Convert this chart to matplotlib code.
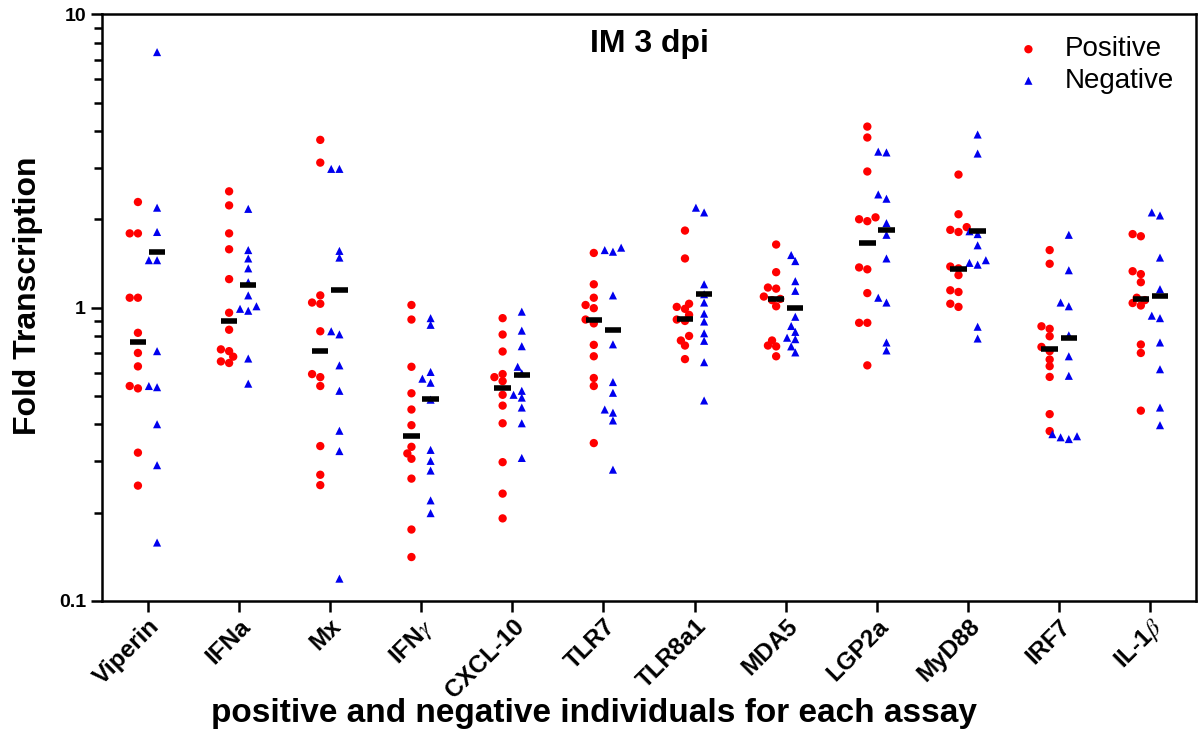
import numpy as np
import matplotlib
matplotlib.use('Agg')
import matplotlib.pyplot as plt

plt.rcParams['font.family'] = ['Liberation Sans', 'DejaVu Sans']
plt.rcParams['mathtext.fontset'] = 'stix'

# ---------------- data ----------------
genes = ['Viperin', 'IFNa', 'Mx', r'IFN$\gamma$', 'CXCL-10', 'TLR7',
         'TLR8a1', 'MDA5', 'LGP2a', 'MyD88', 'IRF7', r'IL-1$\beta$']

positive = [
    [2.29, 1.79, 1.79, 1.08, 1.08, 0.82, 0.70, 0.63, 0.54, 0.53, 0.32, 0.247],
    [2.49, 2.23, 1.79, 1.58, 1.25, 0.96, 0.84, 0.72, 0.71, 0.68, 0.655, 0.647],
    [3.73, 3.12, 1.10, 1.04, 1.03, 0.83, 0.593, 0.579, 0.54, 0.337, 0.269, 0.248],
    [1.02, 0.91, 0.628, 0.51, 0.449, 0.397, 0.335, 0.318, 0.305, 0.261, 0.175, 0.141],
    [0.92, 0.809, 0.708, 0.593, 0.579, 0.561, 0.504, 0.463, 0.403, 0.297, 0.232, 0.191],
    [1.535, 1.20, 1.08, 1.02, 0.995, 0.91, 0.883, 0.746, 0.682, 0.575, 0.54, 0.345],
    [1.83, 1.47, 1.03, 1.005, 0.99, 0.944, 0.91, 0.90, 0.80, 0.772, 0.742, 0.667],
    [1.64, 1.32, 1.17, 1.16, 1.09, 1.07, 1.06, 1.01, 0.772, 0.742, 0.737, 0.682],
    [4.14, 3.80, 2.91, 2.03, 2.0, 1.97, 1.37, 1.35, 1.12, 0.887, 0.887, 0.635],
    [2.84, 2.08, 1.88, 1.84, 1.81, 1.38, 1.36, 1.29, 1.145, 1.13, 1.03, 1.005],
    [1.57, 1.41, 0.863, 0.846, 0.798, 0.734, 0.71, 0.665, 0.631, 0.58, 0.433, 0.379],
    [1.78, 1.75, 1.33, 1.30, 1.22, 1.08, 1.06, 1.036, 1.016, 0.748, 0.70, 0.445],
]

negative = [
    [7.43, 2.19, 1.81, 1.45, 1.45, 0.71, 0.54, 0.535, 0.40, 0.29, 0.158],
    [2.17, 1.57, 1.47, 1.36, 1.22, 1.10, 1.01, 0.99, 0.975, 0.67, 0.55],
    [2.97, 2.97, 1.56, 1.48, 0.83, 0.81, 0.635, 0.52, 0.38, 0.324, 0.119],
    [0.92, 0.873, 0.603, 0.572, 0.554, 0.485, 0.327, 0.30, 0.278, 0.22, 0.199],
    [0.968, 0.834, 0.738, 0.628, 0.597, 0.52, 0.504, 0.493, 0.456, 0.403, 0.307],
    [1.60, 1.57, 1.55, 1.10, 0.749, 0.557, 0.512, 0.449, 0.438, 0.412, 0.28],
    [2.19, 2.11, 1.20, 1.11, 1.04, 0.953, 0.896, 0.817, 0.77, 0.651, 0.482],
    [1.51, 1.44, 1.23, 1.14, 0.93, 0.865, 0.826, 0.789, 0.78, 0.737, 0.703],
    [3.40, 3.38, 2.43, 2.35, 1.94, 1.77, 1.47, 1.08, 1.04, 0.76, 0.714],
    [3.89, 3.35, 1.82, 1.78, 1.63, 1.45, 1.42, 1.40, 0.86, 0.784],
    [1.77, 1.34, 1.04, 1.01, 0.804, 0.682, 0.585, 0.37, 0.364, 0.361, 0.356],
    [2.11, 2.06, 1.48, 1.155, 0.938, 0.92, 0.76, 0.616, 0.456, 0.397],
]

# centre lines as drawn in the figure
pos_center = [0.76, 0.90, 0.71, 0.366, 0.532, 0.91, 0.916, 1.07, 1.66, 1.35, 0.72, 1.07]
neg_center = [1.55, 1.19, 1.15, 0.489, 0.588, 0.84, 1.11, 1.00, 1.84, 1.83, 0.785, 1.096]


def swarm_offsets(vals, px_x=91.4, px_dec=293.0, diam=6.5, step=0.045):
    '''greedy beeswarm: put each point as close to the centre as it fits'''
    lv = np.log10(np.asarray(vals, dtype=float)) * px_dec
    order = np.argsort(lv)
    offs = np.zeros(len(lv))
    placed = []
    cands = [0]
    for k in range(1, 6):
        cands += [-k * step, k * step]
    for idx in order:
        for c in cands:
            ok = True
            for (o, y) in placed:
                if np.hypot((c - o) * px_x, lv[idx] - y) < diam:
                    ok = False
                    break
            if ok:
                break
        offs[idx] = c
        placed.append((c, lv[idx]))
    return offs


fig = plt.figure(figsize=(11.99, 7.51), dpi=100)
ax = fig.add_axes([0.085, 0.2, 0.9125, 0.781])

x = np.arange(len(genes))
shift = 0.105
half_bar = 0.09

for i in range(len(genes)):
    p = np.array(positive[i])
    n = np.array(negative[i])
    ax.scatter(x[i] - shift + swarm_offsets(p), p, s=36, marker='o',
               color='#ff0000', edgecolors='none', zorder=3,
               label='Positive' if i == 0 else None)
    ax.scatter(x[i] + shift + swarm_offsets(n), n, s=34, marker='^',
               color='#0000ee', edgecolors='none', zorder=3,
               label='Negative' if i == 0 else None)
    ax.hlines(pos_center[i], x[i] - shift - half_bar, x[i] - shift + half_bar,
              color='black', lw=4, zorder=4)
    ax.hlines(neg_center[i], x[i] + shift - half_bar, x[i] + shift + half_bar,
              color='black', lw=4, zorder=4)

ax.set_yscale('log')
ax.set_ylim(0.1, 10)
ax.set_xlim(-0.5, 11.5)
ax.set_yticks([0.1, 1, 10])
ax.set_yticklabels(['0.1', '1', '10'], fontsize=14, fontweight='bold')
ax.set_xticks(x)
ax.set_xticklabels(genes, rotation=45, ha='right', rotation_mode='anchor',
                   fontsize=17.5, fontweight='bold')

for s in ax.spines.values():
    s.set_linewidth(1.8)
ax.tick_params(axis='both', which='major', width=1.8, length=8)
ax.tick_params(axis='x', which='major', pad=2)
ax.tick_params(axis='y', which='minor', width=1.8, length=6)
ax.tick_params(axis='x', which='minor', length=0)

ax.set_ylabel('Fold Transcription', fontsize=23, fontweight='bold')
ax.yaxis.set_label_coords(-0.054, 0.52)
ax.set_xlabel('positive and negative individuals for each assay',
              fontsize=24, fontweight='bold')
ax.xaxis.set_label_coords(0.45, -0.166)
ax.text(0.5, 0.975, 'IM 3 dpi', transform=ax.transAxes, ha='center', va='top',
        fontsize=23, fontweight='bold')

ax.legend(loc='upper right', frameon=False, fontsize=20, handletextpad=0.3,
          borderaxespad=0.4, labelspacing=0.2, markerscale=1.0)

fig.savefig('out.png', dpi=100)
